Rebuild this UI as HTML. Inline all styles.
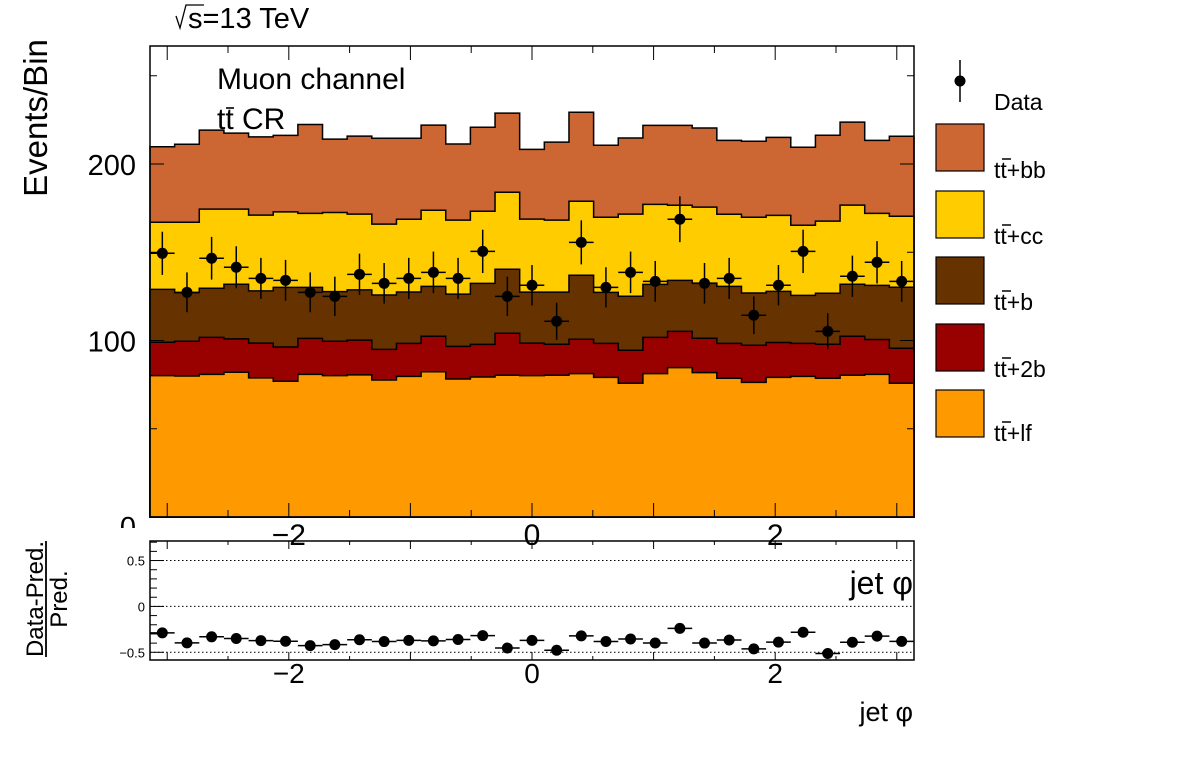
<!DOCTYPE html>
<html><head><meta charset="utf-8"><style>
html,body{margin:0;padding:0;background:#fff;}
svg{display:block;font-family:"Liberation Sans",sans-serif;}
</style></head><body>
<svg id="c" width="1196" height="772" viewBox="0 0 1196 772" xmlns="http://www.w3.org/2000/svg"></svg>
<script>
const nBins = 31;
const lfVals   = [80.1,79.9,80.8,82.0,78.8,76.9,80.8,80.1,80.5,77.6,79.7,82.3,78.2,79.3,80.3,80.1,80.3,81.2,79.1,75.8,81.2,84.6,81.8,78.6,76.3,79.1,79.7,78.6,80.3,80.8,75.8];
const twobVals = [18.9,19.7,21.0,18.9,19.7,19.4,20.4,19.5,19.7,17.4,18.7,20.1,18.5,18.5,23.8,18.4,17.6,19.5,19.3,18.7,20.6,20.6,19.5,19.8,21.0,19.8,18.7,19.3,22.1,19.8,19.8];
const bVals    = [30.0,27.5,27.8,31.0,29.6,33.8,28.9,28.1,28.5,30.8,29.1,28.3,29.6,34.6,36.3,28.9,29.5,36.3,28.9,30.6,30.0,28.9,31.2,32.3,29.6,28.9,27.2,28.9,29.5,30.6,34.6];
const ccVals   = [38.0,39.9,44.8,42.5,42.9,42.8,41.9,44.8,42.9,40.1,41.2,43.1,41.9,40.8,43.6,41.4,40.8,41.9,42.5,46.5,45.3,42.5,43.1,40.8,42.9,43.1,39.7,40.8,44.8,40.8,40.2];
const bbVals   = [42.8,44.2,44.8,43.1,44.4,43.3,50.4,41.6,44.2,48.7,45.9,48.2,43.1,47.6,44.8,39.5,44.2,50.4,40.8,43.1,44.8,45.3,44.8,41.9,43.1,44.2,44.2,48.7,47.0,41.4,45.3];
const dataVals = [149.4,127.3,146.6,141.5,135.2,134.1,127.3,125.0,137.5,132.4,135.2,138.6,135.2,150.5,125.0,131.3,110.9,155.6,130.1,138.6,133.5,168.7,132.4,135.2,114.3,131.3,150.5,105.2,136.4,144.3,133.5];
const yTicks = [0,100,200];
const xTicks = [-2,0,2];
const rTicks = [0.5,0,-0.5];
const rTickLabels = ["0.5","0","\u22120.5"];

const NS="http://www.w3.org/2000/svg";
const svg=document.getElementById('c');
function el(tag,attrs,parent){const e=document.createElementNS(NS,tag);for(const k in attrs)e.setAttribute(k,attrs[k]);(parent||svg).appendChild(e);return e;}
const X0=150,X1=914,XMIN=-Math.PI,XMAX=Math.PI;
function sx(v){return X0+(v-XMIN)/(XMAX-XMIN)*(X1-X0);}
const Y0=517,YT=46,YMAX=(517-46)/1.765;
function sy(v){return Y0-v*1.765;}
const RT=541,RB=660,RMAX=0.713,RMIN=-0.584;
function ry(v){return RT+(RMAX-v)/(RMAX-RMIN)*(RB-RT);}
const bw=(XMAX-XMIN)/nBins;
function edge(i){return sx(XMIN+i*bw);}

const comps=[["lf",lfVals,"#ff9900"],["2b",twobVals,"#990000"],["b",bVals,"#663300"],["cc",ccVals,"#ffcc00"],["bb",bbVals,"#cc6633"]];
const cum=new Array(nBins).fill(0);
const levels=[];
comps.forEach(c=>{const top=cum.map((v,i)=>v+c[1][i]);levels.push([c,top]);for(let i=0;i<nBins;i++)cum[i]=top[i];});
for(let k=levels.length-1;k>=0;k--){
  const c=levels[k][0],top=levels[k][1];
  let d="M"+X0+","+Y0;
  for(let i=0;i<nBins;i++){d+=" L"+edge(i)+","+sy(top[i])+" L"+edge(i+1)+","+sy(top[i]);}
  d+=" L"+X1+","+Y0+" Z";
  const p=el('path',{d:d,fill:c[2],stroke:'#000','stroke-width':1.5});
  
  
}
const fr=el('rect',{x:X0,y:YT,width:X1-X0,height:Y0-YT,fill:'none',stroke:'#000','stroke-width':1.5});

for(let v=-3;v<=3.01;v+=0.5){const x=sx(v);const L=Math.abs(v-Math.round(v))<0.01?14:7;
 el('line',{x1:x,x2:x,y1:Y0,y2:Y0-L,stroke:'#000','stroke-width':1});
 el('line',{x1:x,x2:x,y1:YT,y2:YT+L,stroke:'#000','stroke-width':1});}
for(let v=0;v<=YMAX;v+=50){const y=sy(v);const L=v%100===0?14:7;
 el('line',{x1:X0,x2:X0+L,y1:y,y2:y,stroke:'#000','stroke-width':1});
 el('line',{x1:X1,x2:X1-L,y1:y,y2:y,stroke:'#000','stroke-width':1});}
yTicks.forEach(v=>{const t=el('text',{x:136,y:(v===0?537:sy(v)+11),'font-size':29,'text-anchor':'end'});t.textContent=v;});
el('rect',{x:0,y:528,width:148,height:20,fill:'#fff'});
xTicks.forEach(v=>{const t=el('text',{x:sx(v),y:545,'font-size':30,'text-anchor':'middle'});t.textContent=v<0?"\u2212"+(-v):v;});
for(let i=0;i<nBins;i++){
 const cx=(edge(i)+edge(i+1))/2,v=dataVals[i],e=Math.sqrt(v);
 const g=el('g',{});
 el('line',{x1:edge(i),x2:edge(i+1),y1:sy(v),y2:sy(v),stroke:'#000','stroke-width':1.5},g);
 el('line',{x1:cx,x2:cx,y1:sy(v+e),y2:sy(v-e),stroke:'#000','stroke-width':1.5},g);
 el('circle',{cx:cx,cy:sy(v),r:5.5,fill:'#000'},g);
}
function txt(x,y,s,size,name,extra){const t=el('text',Object.assign({x:x,y:y,'font-size':size},extra||{}));t.textContent=s;return t;}
txt(217,89,"Muon channel",30,'channel-label');
txt(217,129,"tt CR",30,'region-label');
el('line',{x1:226,x2:234,y1:108,y2:108,stroke:'#000','stroke-width':1.6});
txt(188,28,"s=13 TeV",29,'energy-label');
el('path',{d:"M176,16 L180,28 L186,5 L204,5",fill:'none',stroke:'#000','stroke-width':1.3});
txt(0,0,"Events/Bin",33,'y-axis-title',{transform:'translate(47,118) rotate(-90)','text-anchor':'middle'});

const leg=el('g',{});
el('line',{x1:960,x2:960,y1:60,y2:102,stroke:'#000','stroke-width':1.5},leg);
el('circle',{cx:960,cy:81,r:5.5,fill:'#000'},leg);
const ld=el('text',{x:994,y:110,'font-size':23},leg);ld.textContent="Data";
const legItems=[["bb","#cc6633",124,178],["cc","#ffcc00",191,244],["b","#663300",257,310],["2b","#990000",324,377],["lf","#ff9900",390,441]];
legItems.forEach(it=>{
 const g=el('g',{},leg);
 el('rect',{x:936,y:it[2],width:48,height:47,fill:it[1],stroke:'#000','stroke-width':1.2},g);
 const t=el('text',{x:994,y:it[3],'font-size':23},g);t.textContent="tt+"+it[0];
 el('line',{x1:1002,x2:1011,y1:it[3]-19,y2:it[3]-19,stroke:'#000','stroke-width':1.5},g);
});

el('rect',{x:0,y:545,width:1196,height:227,fill:'#fff'});
const rf=el('rect',{x:X0,y:RT,width:X1-X0,height:RB-RT,fill:'none',stroke:'#000','stroke-width':1.5});

rTicks.forEach((v,i)=>{const y=ry(v);
 const l=el('line',{x1:X0,x2:X1,y1:y,y2:y,stroke:'#000','stroke-width':1,'stroke-dasharray':'1.5,2.5'});
 
 txt(145,y+5,rTickLabels[i],13,'ratio-y-tick-label',{'text-anchor':'end'});});
for(let k=-5;k<=7;k++){const v=k/10,y=ry(v);const L=k%5===0?14:7;
 el('line',{x1:X0,x2:X0+L,y1:y,y2:y,stroke:'#000','stroke-width':1});}
for(let v=-3;v<=3.01;v+=0.5){const x=sx(v);const L=Math.abs(v-Math.round(v))<0.01?8:4;
 el('line',{x1:x,x2:x,y1:RB,y2:RB-L,stroke:'#000','stroke-width':1});
 el('line',{x1:x,x2:x,y1:RT,y2:RT+L,stroke:'#000','stroke-width':1});}
xTicks.forEach(v=>{const t=el('text',{x:sx(v),y:683,'font-size':28,'text-anchor':'middle'});t.textContent=v<0?"\u2212"+(-v):v;});
for(let i=0;i<nBins;i++){
 const cx=(edge(i)+edge(i+1))/2,r=(dataVals[i]-cum[i])/cum[i];
 const g=el('g',{});
 el('line',{x1:edge(i),x2:edge(i+1),y1:ry(r),y2:ry(r),stroke:'#000','stroke-width':1.5},g);
 el('circle',{cx:cx,cy:ry(r),r:5.5,fill:'#000'},g);
}
txt(913,594,"jet \u03c6",32,'ratio-inner-x-title',{'text-anchor':'end'});
txt(913,721,"jet \u03c6",27,'x-axis-title',{'text-anchor':'end'});
const rt=el('g',{});
const t1=el('text',{transform:'translate(43,599) rotate(-90)','font-size':24,'text-anchor':'middle'},rt);t1.textContent="Data-Pred.";
el('line',{x1:46,x2:46,y1:541,y2:657,stroke:'#000','stroke-width':1.8},rt);
const t2=el('text',{transform:'translate(67,599) rotate(-90)','font-size':24,'text-anchor':'middle'},rt);t2.textContent="Pred.";
</script>
</body></html>
